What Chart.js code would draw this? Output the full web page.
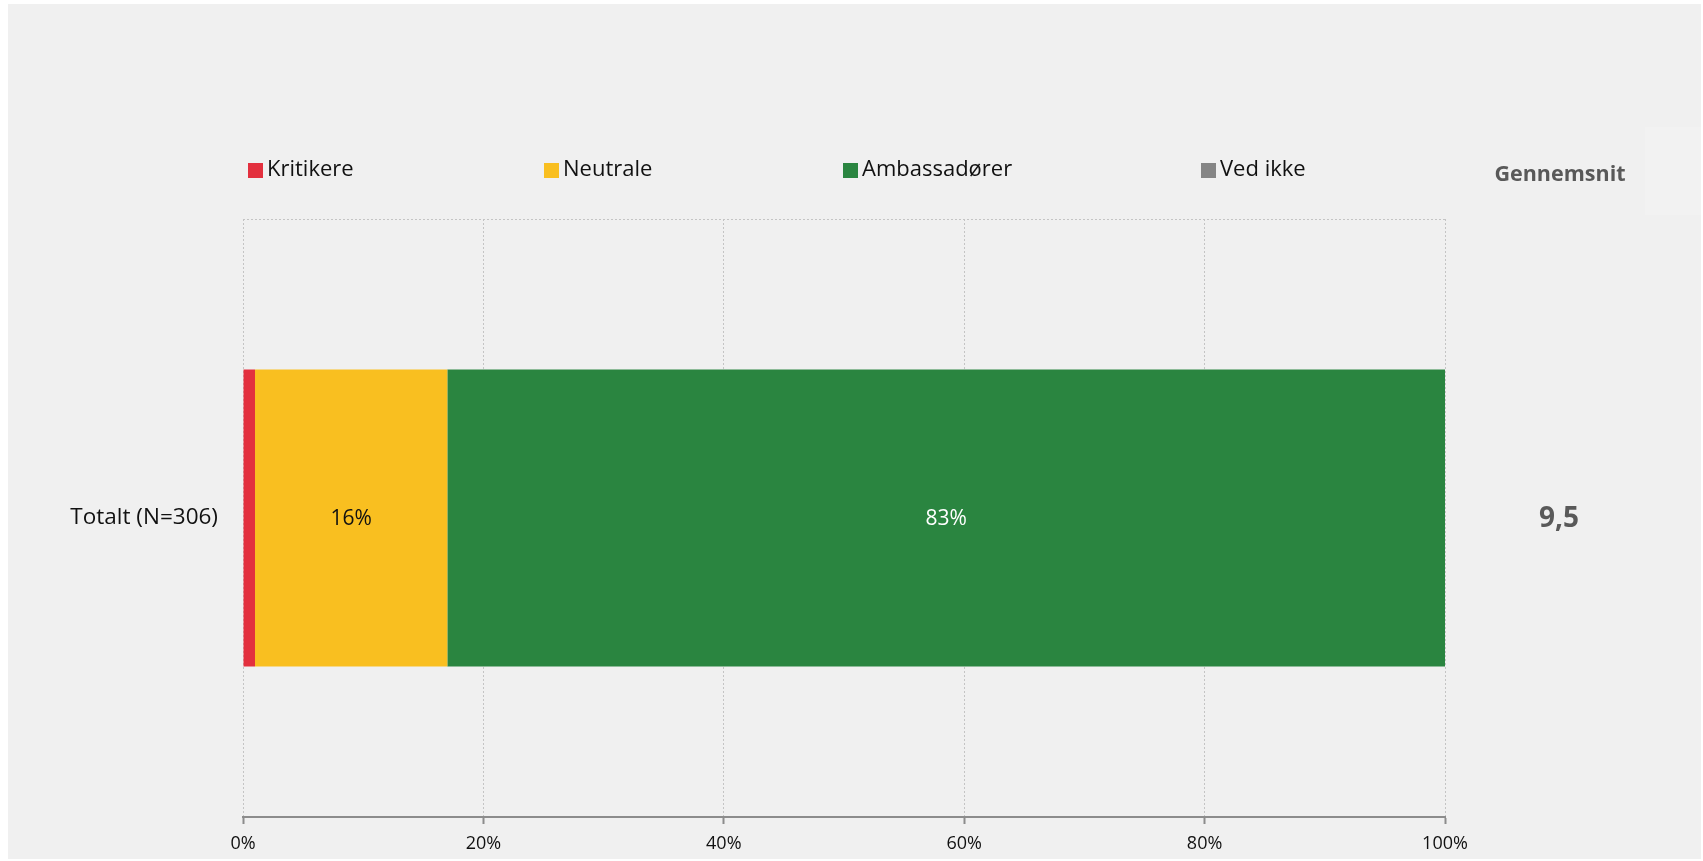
<!DOCTYPE html>
<html>
<head>
<meta charset="utf-8">
<script src="https://cdn.jsdelivr.net/npm/chart.js@4"></script>
<style>
  body { margin: 0; background: #ffffff; }
  #wrap { position: relative; width: 1703px; height: 861px; }
  #bg { position: absolute; left: 8px; top: 4px; width: 1693px; height: 855px; background: #f0f0f0; }
  #box { position: absolute; left: 1645px; top: 127px; width: 56px; height: 88px; background: #f2f2f2; }
  canvas { position: absolute; left: 0; top: 0; }
</style>
</head>
<body>
<div id="wrap">
  <div id="bg"></div>
  <div id="box"></div>
  <canvas id="npsChart" width="1703" height="861"></canvas>
</div>
<script>
// Data
const categories = ['Totalt (N=306)'];
const kritikere = [1];
const neutrale = [16];
const ambassadoerer = [83];
const vedIkke = [0];
const gennemsnit = [9.5];
const xTicks = [0, 20, 40, 60, 80, 100];

const FONT = "'Open Sans', 'Noto Sans', sans-serif";

// Legend drawn in a row with fixed positions, like the original
const legendPlugin = {
    id: 'rowLegend',
    afterDraw(chart) {
        const ctx = chart.ctx;
        const xs = [248, 544, 843, 1201];
        const y = 170;
        ctx.save();
        ctx.font = '22px ' + FONT;
        ctx.textBaseline = 'middle';
        ctx.textAlign = 'left';
        chart.data.datasets.forEach((ds, i) => {
            ctx.fillStyle = ds.backgroundColor;
            ctx.fillRect(xs[i], y - 7, 15, 15);
            ctx.fillStyle = '#111111';
            ctx.fillText(ds.label, xs[i] + 19, y);
        });
        // Average column
        ctx.fillStyle = '#595959';
        ctx.textAlign = 'center';
        ctx.font = 'bold 21.5px ' + FONT;
        ctx.fillText('Gennemsnit', 1560, 175);
        ctx.font = 'bold 28px ' + FONT;
        const yScale = chart.scales.y;
        gennemsnit.forEach((v, i) => {
            ctx.fillText(v.toFixed(1).replace('.', ','), 1559, yScale.getPixelForValue(i) + 1);
        });
        ctx.restore();
    }
};

// Percent labels in the middle of the wide segments
const valueLabels = {
    id: 'valueLabels',
    afterDatasetsDraw(chart) {
        const ctx = chart.ctx;
        ctx.save();
        ctx.font = '21px ' + FONT;
        ctx.textAlign = 'center';
        ctx.textBaseline = 'middle';
        chart.data.datasets.forEach((ds, di) => {
            const meta = chart.getDatasetMeta(di);
            meta.data.forEach((bar, i) => {
                const v = ds.data[i];
                if (v < 3) return;
                ctx.fillStyle = ds.labelColor;
                ctx.fillText(v + '%', (bar.x + bar.base) / 2, bar.y + 1);
            });
        });
        ctx.restore();
    }
};

const ctx = document.getElementById('npsChart').getContext('2d');
const npsChart = new Chart(ctx, {
    type: 'bar',
    data: {
        labels: categories,
        datasets: [
            { label: 'Kritikere', data: kritikere, backgroundColor: '#e3303e', labelColor: '#111111' },
            { label: 'Neutrale', data: neutrale, backgroundColor: '#f9bf20', labelColor: '#111111' },
            { label: 'Ambassadører', data: ambassadoerer, backgroundColor: '#2a8540', labelColor: '#ffffff' },
            { label: 'Ved ikke', data: vedIkke, backgroundColor: '#858585', labelColor: '#111111' }
        ]
    },
    options: {
        responsive: false,
        animation: false,
        indexAxis: 'y',
        layout: { padding: { top: 219, right: 258, bottom: 0, left: 0 } },
        datasets: {
            bar: { categoryPercentage: 1, barPercentage: 0.497, borderWidth: 0 }
        },
        plugins: {
            legend: { display: false },
            tooltip: { enabled: false }
        },
        scales: {
            x: {
                stacked: true,
                min: 0,
                max: 100,
                afterBuildTicks(scale) {
                    scale.ticks = xTicks.map(v => ({ value: v }));
                },
                afterFit(scale) { scale.height = 44; },
                grid: {
                    color: '#c4c4c4',
                    lineWidth: 1,
                    tickColor: '#8c8c8c',
                    tickWidth: 2,
                    tickLength: 7
                },
                border: { display: true, color: '#8c8c8c', width: 2, dash: [2, 2] },
                ticks: {
                    color: '#111111',
                    font: { family: FONT, size: 18 },
                    padding: 9,
                    callback: v => v + '%'
                }
            },
            y: {
                stacked: true,
                afterFit(scale) { scale.width = 243; },
                grid: {
                    color: '#c4c4c4',
                    lineWidth: 1,
                    drawTicks: false
                },
                border: { display: false, dash: [2, 2] },
                ticks: {
                    color: '#111111',
                    font: { family: FONT, size: 22.5 },
                    padding: 25
                }
            }
        }
    },
    plugins: [legendPlugin, valueLabels]
});
</script>
</body>
</html>
